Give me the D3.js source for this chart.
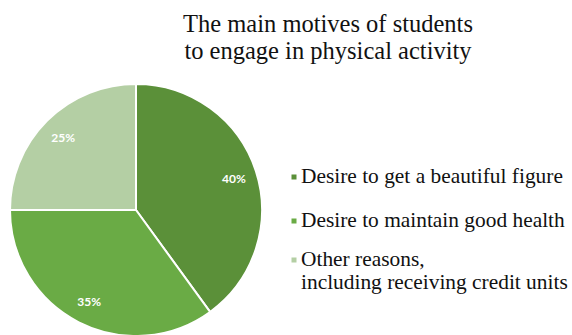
<!DOCTYPE html>
<html>
<head>
<meta charset="utf-8">
<script src="https://cdn.jsdelivr.net/npm/d3@7"></script>
<style>
  html, body { margin: 0; padding: 0; background: #ffffff; }
  svg { display: block; }
</style>
</head>
<body>
<svg id="chart" width="572" height="335"></svg>
<script>
const categories = [
  "Desire to get a beautiful figure",
  "Desire to maintain good health",
  "Other reasons, including receiving credit units"
];
const legendLines = [
  ["Desire to get a beautiful figure"],
  ["Desire to maintain good health"],
  ["Other reasons,", "including receiving credit units"]
];
const values = [40, 35, 25];
const valueLabels = ["40%", "35%", "25%"];
const titleLines = ["The main motives of students", "to engage in physical activity"];
const colors = ["#5b9039", "#6aab45", "#b4cfa4"];

const SERIF = "Liberation Serif";
const svg = d3.select("#chart");
const cx = 136, cy = 210, R = 126;

const pie = d3.pie().sort(null).value(d => d)(values);
const arc = d3.arc().innerRadius(0).outerRadius(R);
const labelArc = d3.arc().innerRadius(103).outerRadius(103);

const g = svg.append("g").attr("transform", `translate(${cx},${cy})`);
g.selectAll("path.slice").data(pie).enter().append("path")
  .attr("class", "slice")
  .attr("d", arc)
  .attr("fill", (d, i) => colors[i])
  .attr("stroke", "#ffffff")
  .attr("stroke-width", 2)
  .attr("stroke-linejoin", "round");

g.selectAll("text.lbl").data(pie).enter().append("text")
  .attr("class", "lbl")
  .attr("transform", d => `translate(${labelArc.centroid(d)})`)
  .attr("text-anchor", "middle")
  .attr("dominant-baseline", "central")
  .attr("fill", "#ffffff")
  .style("font-family", "Lato")
  .style("font-weight", "bold")
  .style("font-size", "12px")
  .text((d, i) => valueLabels[i]);

// Title
const title = svg.append("text")
  .attr("text-anchor", "middle")
  .style("font-family", SERIF)
  .style("font-size", "24.5px")
  .attr("fill", "#111111");
title.selectAll("tspan").data(titleLines).enter().append("tspan")
  .attr("x", 328)
  .attr("y", (d, i) => 32 + i * 27)
  .text(d => d);

// Legend
const legendY = [183, 227, 266];
const lg = svg.append("g");
legendLines.forEach((lines, i) => {
  lg.append("rect")
    .attr("x", 291.5).attr("y", legendY[i] - 8.5)
    .attr("width", 5).attr("height", 5)
    .attr("fill", colors[i]);
  const t = lg.append("text")
    .style("font-family", SERIF)
    .style("font-size", "21.4px")
    .attr("fill", "#111111");
  lines.forEach((ln, j) => {
    t.append("tspan").attr("x", 301).attr("y", legendY[i] + j * 22.5).text(ln);
  });
});
</script>
</body>
</html>
